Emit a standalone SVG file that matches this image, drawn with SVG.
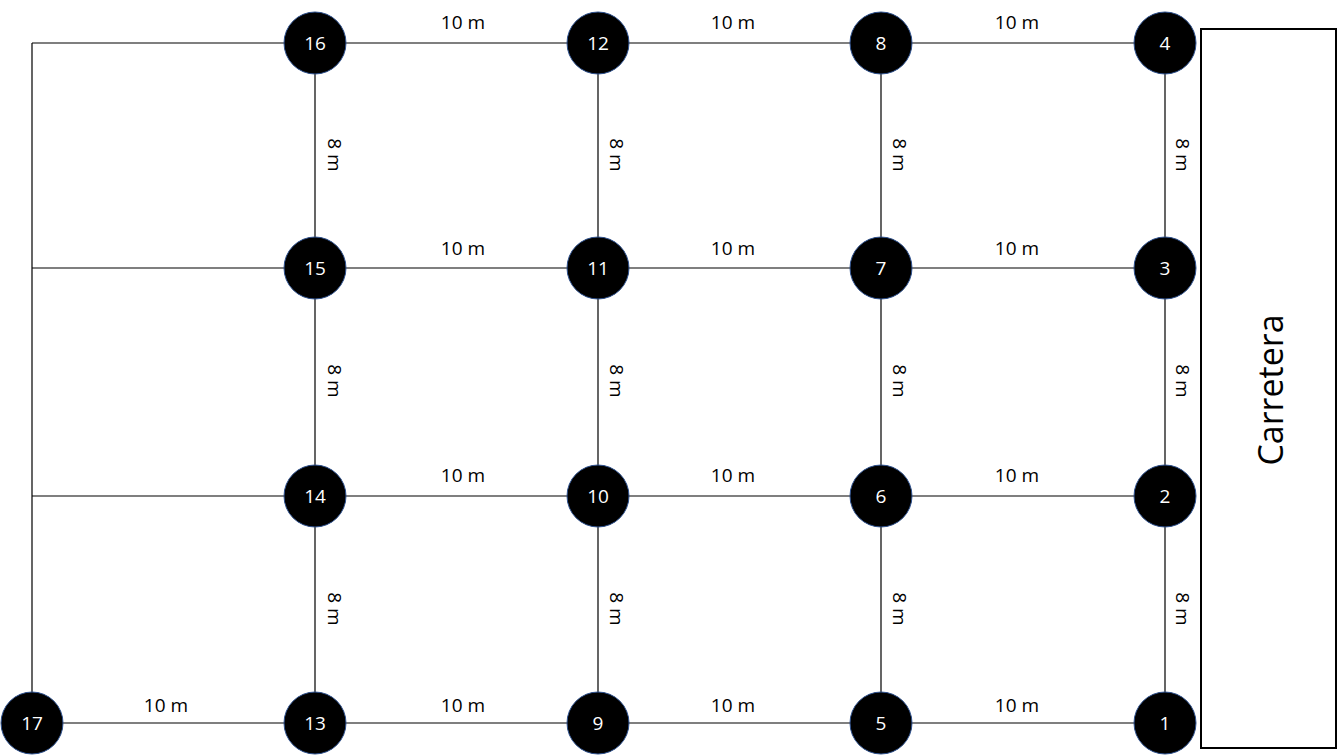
<svg xmlns="http://www.w3.org/2000/svg" width="1338" height="756" viewBox="0 0 1338 756">
<style>
.e{stroke:#000;stroke-width:1.2;fill:none}
.n circle{fill:#000;stroke:#2f528f;stroke-width:1}
.n text{fill:#fff;font-family:"Open Sans","Liberation Sans",sans-serif;font-size:19px;text-anchor:middle;dominant-baseline:central}
.l{fill:#000;font-family:"Open Sans","Liberation Sans",sans-serif;font-size:19px;text-anchor:middle;dominant-baseline:central}
</style>
<rect width="1338" height="756" fill="#fff"/>
<g id="connectors">
<path class="e" d="M32 43H1165M32 268H1165M32 496H1165M32 723H1165M32 43V723M315 43V723M598 43V723M881 43V723M1165 43V723"/>
</g>
<g id="labels">
<text class="l" x="463" y="22">10 m</text><text class="l" x="733" y="22">10 m</text><text class="l" x="1017" y="22">10 m</text>
<text class="l" x="463" y="248">10 m</text><text class="l" x="733" y="248">10 m</text><text class="l" x="1017" y="248">10 m</text>
<text class="l" x="463" y="475">10 m</text><text class="l" x="733" y="475">10 m</text><text class="l" x="1017" y="475">10 m</text>
<text class="l" x="166" y="705">10 m</text><text class="l" x="463" y="705">10 m</text><text class="l" x="733" y="705">10 m</text><text class="l" x="1017" y="705">10 m</text>
<text class="l" transform="translate(335 155) rotate(90)">8 m</text>
<text class="l" transform="translate(617 155) rotate(90)">8 m</text>
<text class="l" transform="translate(900 155) rotate(90)">8 m</text>
<text class="l" transform="translate(1183 155) rotate(90)">8 m</text>
<text class="l" transform="translate(335 381) rotate(90)">8 m</text>
<text class="l" transform="translate(617 381) rotate(90)">8 m</text>
<text class="l" transform="translate(900 381) rotate(90)">8 m</text>
<text class="l" transform="translate(1183 381) rotate(90)">8 m</text>
<text class="l" transform="translate(335 609) rotate(90)">8 m</text>
<text class="l" transform="translate(617 609) rotate(90)">8 m</text>
<text class="l" transform="translate(900 609) rotate(90)">8 m</text>
<text class="l" transform="translate(1183 609) rotate(90)">8 m</text>
</g>
<g id="carretera">
<rect x="1201" y="29" width="135" height="719" fill="#fff" stroke="#000" stroke-width="2"/>
<text transform="translate(1270 390) rotate(-90)" font-family="Open Sans, Liberation Sans, sans-serif" font-size="34" text-anchor="middle" dominant-baseline="central">Carretera</text>
</g>
<g id="n1" class="n"><circle cx="1165" cy="723" r="31"/><text x="1165" y="723">1</text></g>
<g id="n2" class="n"><circle cx="1165" cy="496" r="31"/><text x="1165" y="496">2</text></g>
<g id="n3" class="n"><circle cx="1165" cy="268" r="31"/><text x="1165" y="268">3</text></g>
<g id="n4" class="n"><circle cx="1165" cy="43" r="31"/><text x="1165" y="43">4</text></g>
<g id="n5" class="n"><circle cx="881" cy="723" r="31"/><text x="881" y="723">5</text></g>
<g id="n6" class="n"><circle cx="881" cy="496" r="31"/><text x="881" y="496">6</text></g>
<g id="n7" class="n"><circle cx="881" cy="268" r="31"/><text x="881" y="268">7</text></g>
<g id="n8" class="n"><circle cx="881" cy="43" r="31"/><text x="881" y="43">8</text></g>
<g id="n9" class="n"><circle cx="598" cy="723" r="31"/><text x="598" y="723">9</text></g>
<g id="n10" class="n"><circle cx="598" cy="496" r="31"/><text x="598" y="496">10</text></g>
<g id="n11" class="n"><circle cx="598" cy="268" r="31"/><text x="598" y="268">11</text></g>
<g id="n12" class="n"><circle cx="598" cy="43" r="31"/><text x="598" y="43">12</text></g>
<g id="n13" class="n"><circle cx="315" cy="723" r="31"/><text x="315" y="723">13</text></g>
<g id="n14" class="n"><circle cx="315" cy="496" r="31"/><text x="315" y="496">14</text></g>
<g id="n15" class="n"><circle cx="315" cy="268" r="31"/><text x="315" y="268">15</text></g>
<g id="n16" class="n"><circle cx="315" cy="43" r="31"/><text x="315" y="43">16</text></g>
<g id="n17" class="n"><circle cx="32" cy="723" r="31"/><text x="32" y="723">17</text></g>
</svg>
